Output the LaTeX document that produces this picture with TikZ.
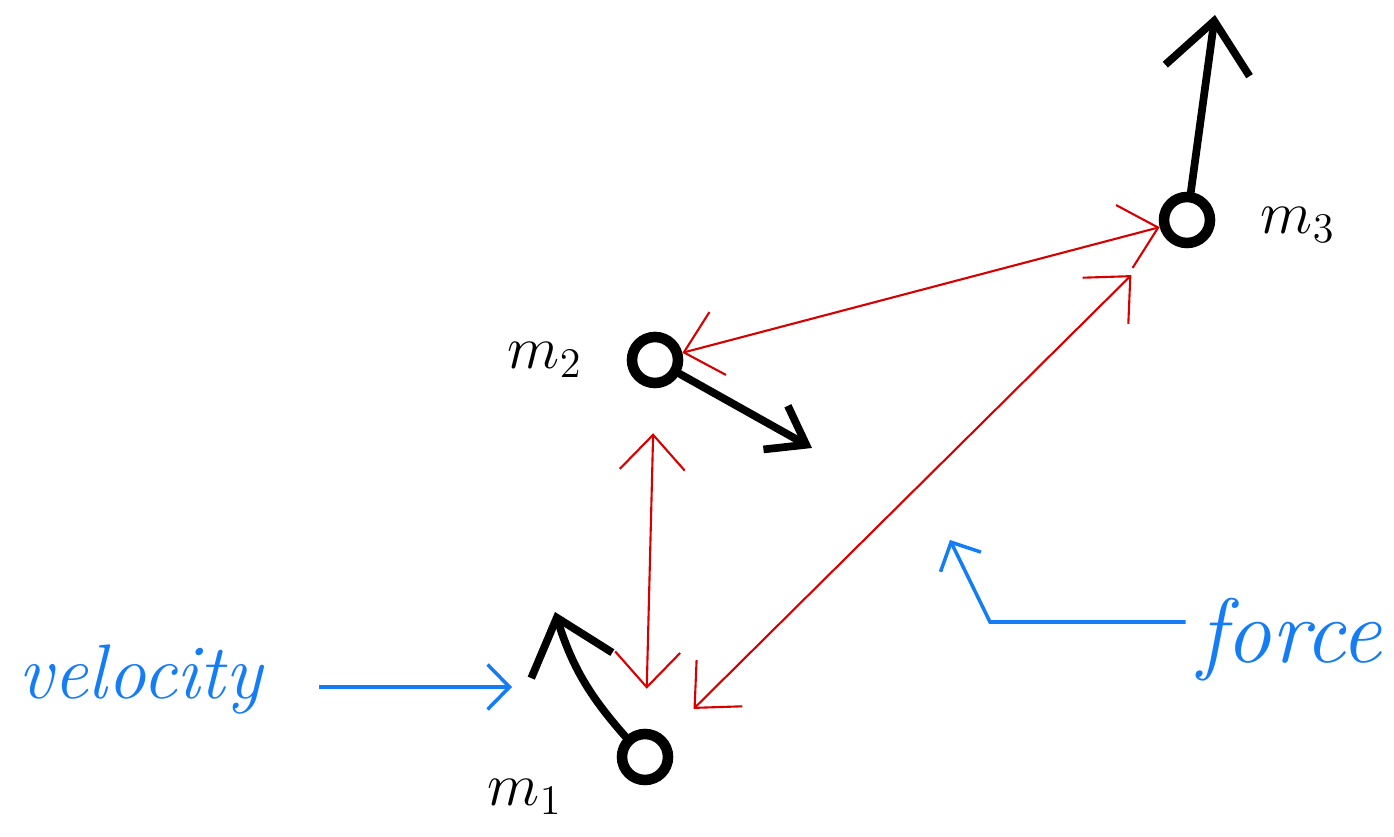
\documentclass[tikz,border=0pt]{standalone}
\usepackage{amsmath}
\usepackage{tikz}
\usetikzlibrary{arrows.meta}
\definecolor{penblue}{RGB}{20,125,245}
\definecolor{penred}{RGB}{215,0,0}

\begin{document}
\begin{tikzpicture}[
  mass/.style={circle, draw, line width=3pt, minimum size=0.46cm, inner sep=0pt},
  vel/.style={line width=2.2pt, line cap=round, line join=round,
              -{Straight Barb[length=0.5cm, width=0.85cm]}},
  force/.style={penred, line width=0.6pt,
                {Straight Barb[length=0.35cm, width=0.65cm]}-{Straight Barb[length=0.35cm, width=0.65cm]}},
  note/.style={penblue, line width=1pt, -{Straight Barb[length=0.22cm, width=0.45cm]}},
  lbl/.style={font=\fontsize{18}{20}\selectfont}]
  \useasboundingbox (0,0) rectangle (13.94,8.37);
  \node[mass] (m1) at (6.45,0.80) {};
  \node[mass] (m2) at (6.55,4.77) {};
  \node[mass] (m3) at (11.87,6.17) {};
  \node[lbl] (l1) at (5.25,0.40) {$m_1$};
  \node[lbl] (l2) at (5.45,4.77) {$m_2$};
  \node[lbl] (l3) at (12.98,6.12) {$m_3$};
  \coordinate (v1) at (5.55,2.25);
  \coordinate (v2) at (8.12,3.89);
  \coordinate (v3) at (12.15,8.22);
  \draw[vel] (m1) to[bend left=12] (v1);
  \draw[vel, -{Straight Barb[length=0.35cm, width=0.5cm]}] (m2) -- (v2);
  \draw[vel] (m3) -- (v3);
  \draw[force, shorten <=0.4cm, shorten >=0.45cm] (m1) -- (m2);
  \draw[force] (m2) -- (m3);
  \draw[force, shorten <=0.4cm, shorten >=0.5cm] (m1) -- (m3);
  \node[penblue, font=\fontsize{22}{26}\selectfont\itshape] (vtext) at (1.40,1.57) {velocity};
  \node[penblue, font=\fontsize{26}{30}\selectfont\itshape] (ftext) at (12.90,1.97) {force};
  \coordinate (vend) at (5.12,1.50);
  \coordinate (fcorner) at (9.90,2.15);
  \coordinate (ftip) at (9.50,2.97);
  \draw[note, shorten <=0.45cm] (vtext.east |- vend) -- (vend);
  \draw[note] (ftext.west |- fcorner) -- (fcorner) -- (ftip);
\end{tikzpicture}
\end{document}
